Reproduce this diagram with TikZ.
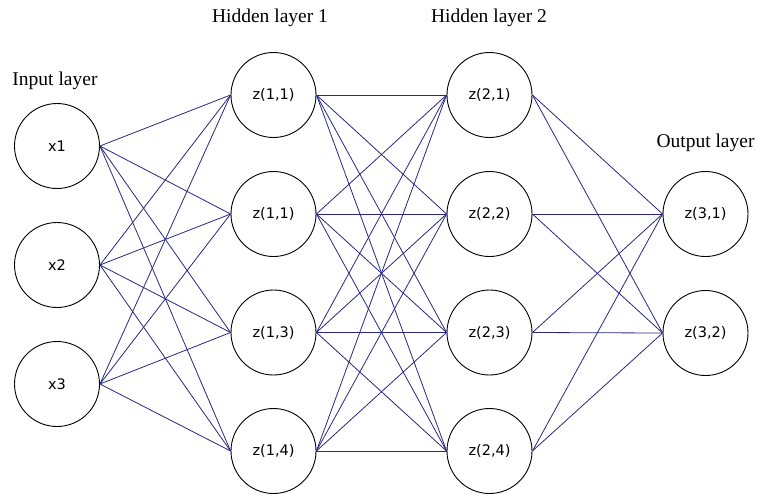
\documentclass[tikz,border=0pt]{standalone}
\usepackage{fontspec}
\setmainfont{Liberation Serif}
\newfontfamily\nodefont{DejaVu Sans}
\definecolor{linkblue}{RGB}{40,40,128}
\begin{document}
\begin{tikzpicture}[x=1pt,y=-1pt,
  neuron/.style={circle,draw=black,line width=0.9pt,minimum size=85pt,inner sep=0pt,font=\nodefont\fontsize{14.5}{17}\selectfont,fill=white},
  layerlabel/.style={font=\fontsize{19.5}{22}\selectfont,inner sep=0pt},
  link/.style={draw=linkblue,line width=0.8pt}]
\useasboundingbox (0,0) rectangle (757,493);
% layer labels
\node[layerlabel] (lin) at (55,81) {Input layer};
\node[layerlabel] (lh1) at (270,18) {Hidden layer 1};
\node[layerlabel] (lh2) at (489,18) {Hidden layer 2};
\node[layerlabel] (lout) at (705.5,143) {Output layer};
% neurons
\node[neuron] (x1) at (57,146) {x1};
\node[neuron] (x2) at (57,265) {x2};
\node[neuron] (x3) at (57,384) {x3};
\node[neuron] (h1) at (273.5,95) {z(1,1)};
\node[neuron] (h2) at (273.5,214) {z(1,1)};
\node[neuron] (h3) at (273.5,332.5) {z(1,3)};
\node[neuron] (h4) at (273.5,451) {z(1,4)};
\node[neuron] (g1) at (489.5,95) {z(2,1)};
\node[neuron] (g2) at (489.5,214) {z(2,2)};
\node[neuron] (g3) at (489.5,332.5) {z(2,3)};
\node[neuron] (g4) at (489.5,451) {z(2,4)};
\node[neuron] (o1) at (705.5,214) {z(3,1)};
\node[neuron] (o2) at (705.5,333) {z(3,2)};
% connections
\foreach \a in {x1,x2,x3}{\foreach \b in {h1,h2,h3,h4}{\draw[link] (\a.east) -- (\b.west);}}
\foreach \a in {h1,h2,h3,h4}{\foreach \b in {g1,g2,g3,g4}{\draw[link] (\a.east) -- (\b.west);}}
\foreach \a in {g1,g2,g3,g4}{\foreach \b in {o1,o2}{\draw[link] (\a.east) -- (\b.west);}}
\end{tikzpicture}
\end{document}
